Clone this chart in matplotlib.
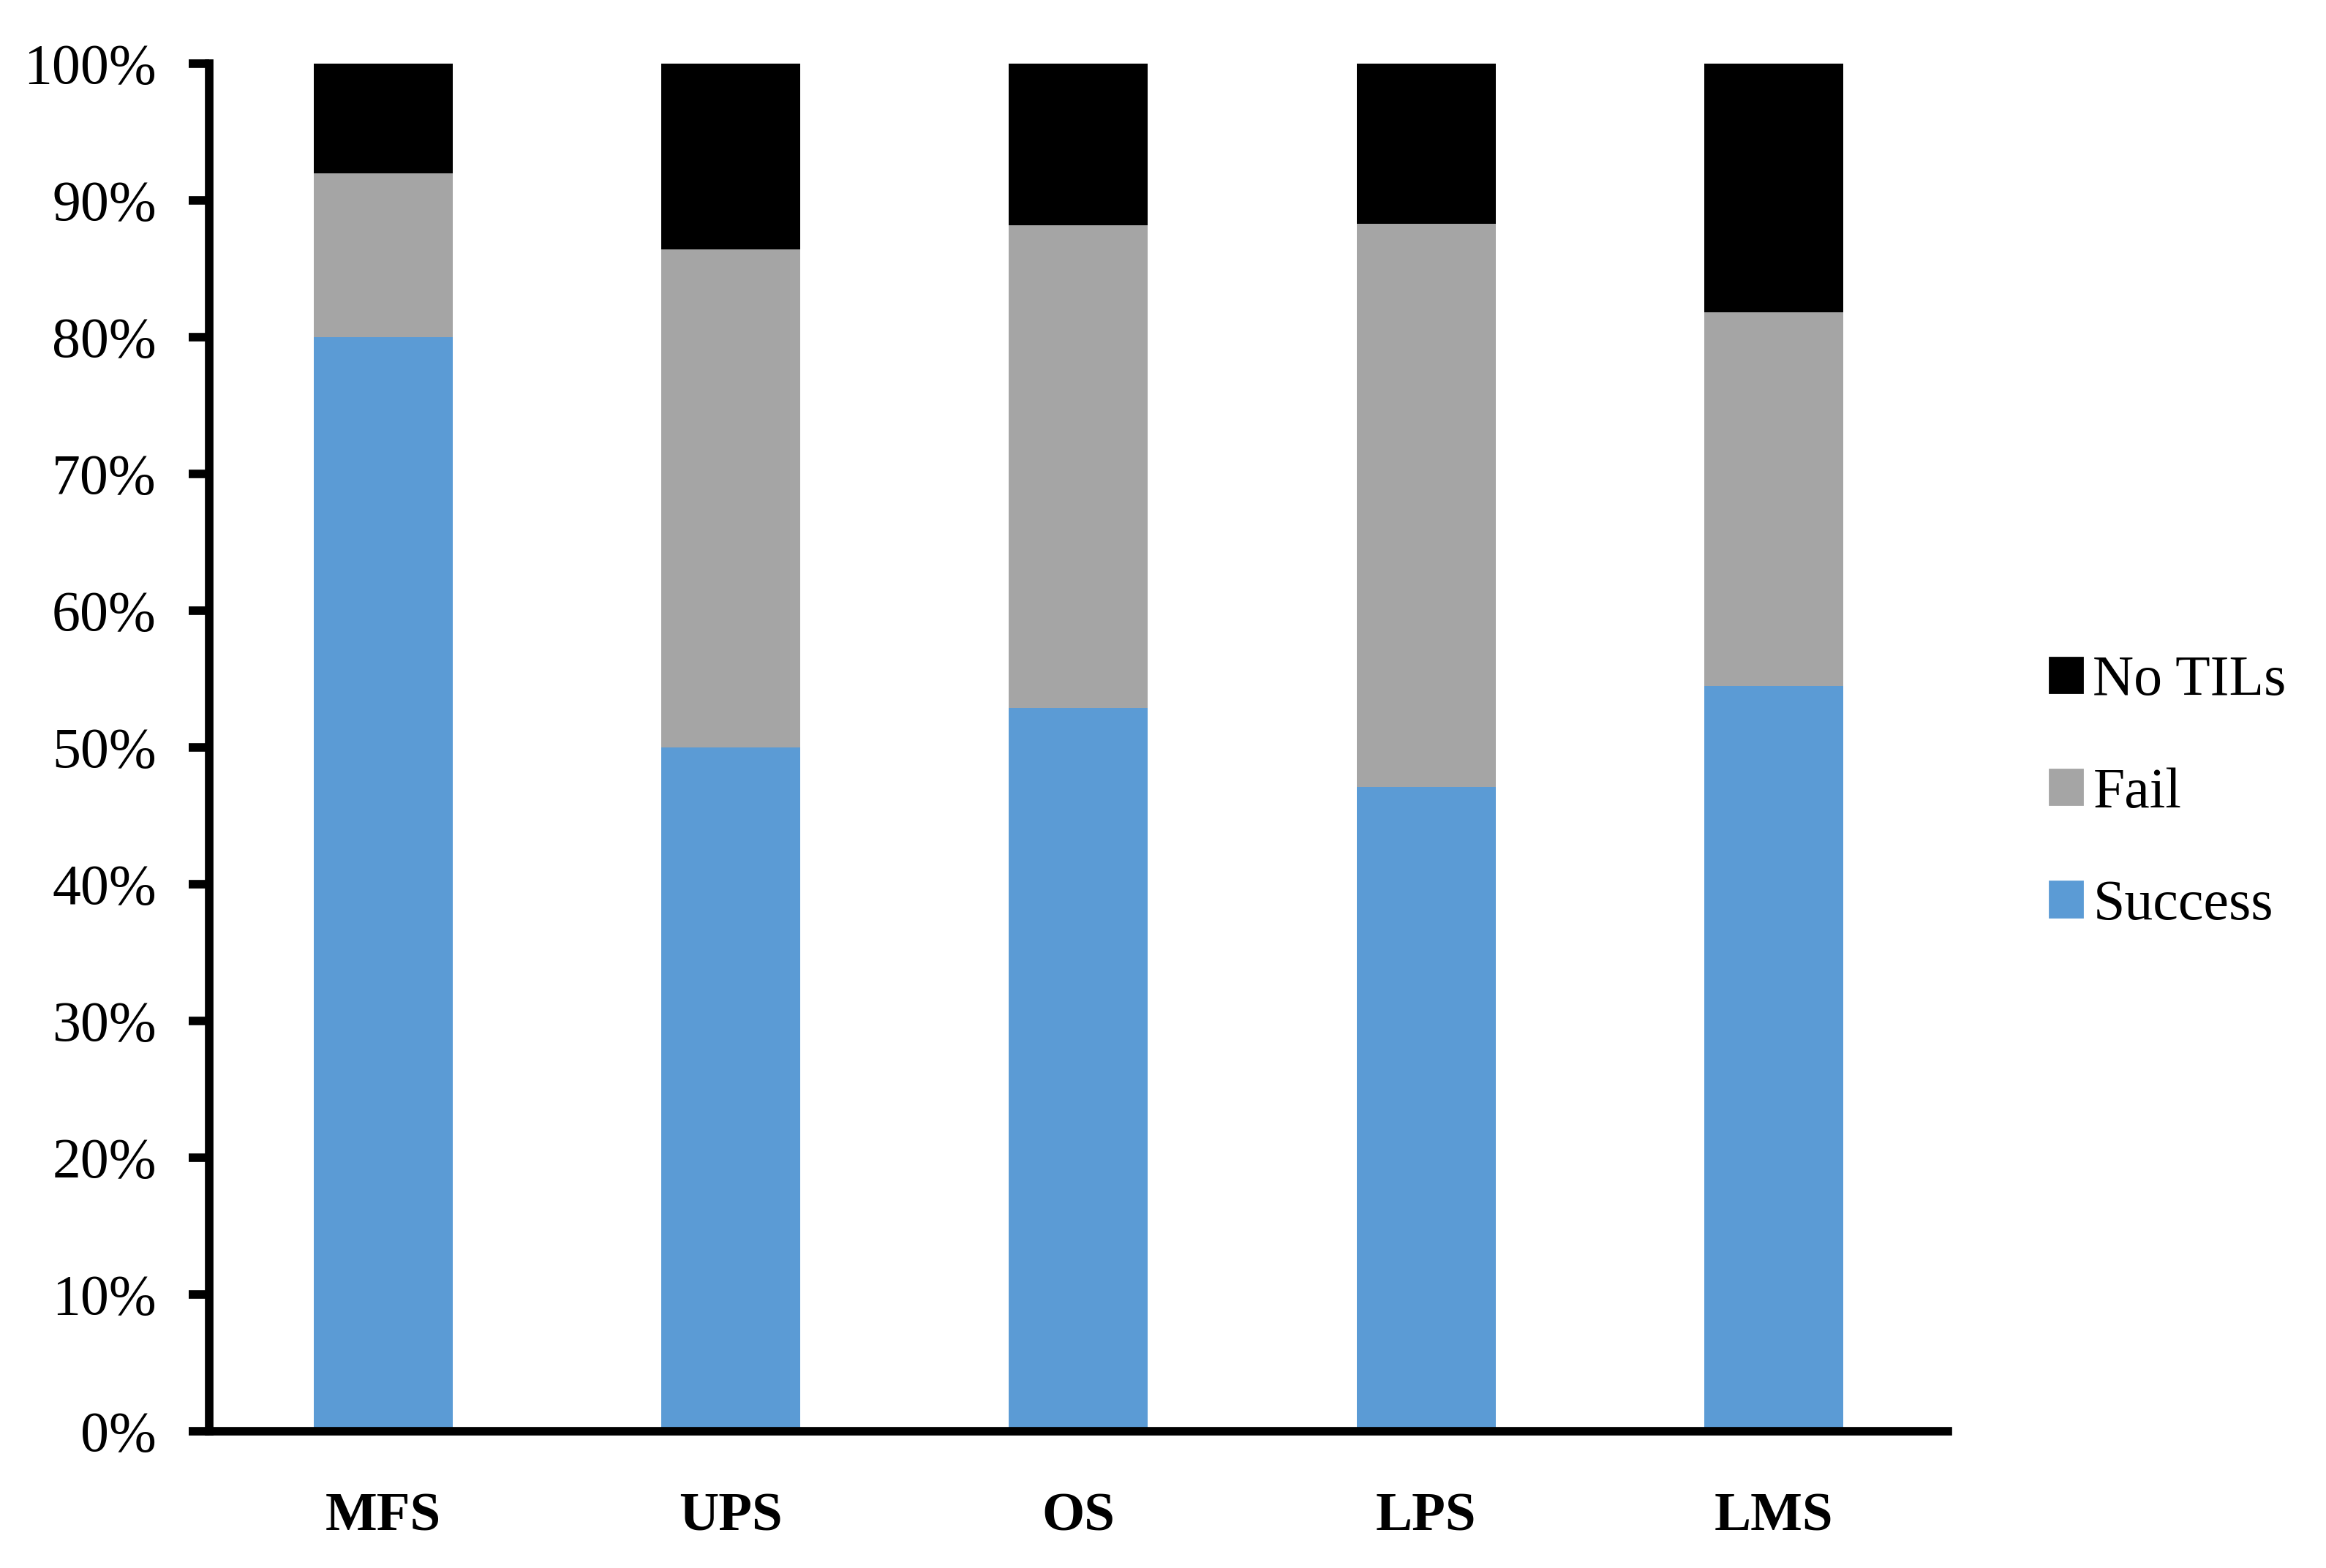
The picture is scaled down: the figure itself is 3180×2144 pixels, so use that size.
import matplotlib
matplotlib.use("Agg")
import matplotlib.pyplot as plt
from matplotlib.patches import Patch
import numpy as np

categories = ["MFS", "UPS", "OS", "LPS", "LMS"]
success = [80.0, 50.0, 52.9, 47.1, 54.5]
fail = [12.0, 36.4, 35.3, 41.2, 27.3]
no_tils = [8.0, 13.6, 11.8, 11.8, 18.2]
ytick_labels = [f"{v}%" for v in range(0, 101, 10)]

c_success = "#5B9BD5"
c_fail = "#A5A5A5"
c_none = "#000000"

plt.rcParams["font.family"] = ["Liberation Serif", "DejaVu Serif"]

fig = plt.figure(figsize=(15.9, 10.72), dpi=200)
ax = fig.add_axes([0.0899, 0.0872, 0.8374 - 0.0899, 0.9594 - 0.0872])

x = np.arange(len(categories))
s = np.array(success)
f = np.array(fail)
n = np.array(no_tils)
w = 0.4
ax.bar(x, s, w, color=c_success, zorder=1)
ax.bar(x, f, w, bottom=s, color=c_fail, zorder=1)
ax.bar(x, n, w, bottom=s + f, color=c_none, zorder=1)

ax.set_xlim(-0.5, len(categories) - 0.5)
ax.set_ylim(0, 100)
ax.set_yticks(range(0, 101, 10))
ax.set_yticklabels(ytick_labels, fontsize=28)
ax.set_xticks(x)
ax.set_xticklabels(categories, fontsize=27, fontweight="bold")

for side in ["top", "right"]:
    ax.spines[side].set_visible(False)
for side in ["left", "bottom"]:
    ax.spines[side].set_linewidth(4.2)
    ax.spines[side].set_zorder(3)
    ax.spines[side].set_capstyle("projecting")

ax.tick_params(axis="y", direction="out", length=10, width=4.2, pad=16)
ax.tick_params(axis="x", length=0, pad=30)

handles = [Patch(color=c_none, label="No TILs"),
           Patch(color=c_fail, label="Fail"),
           Patch(color=c_success, label="Success")]
fig.legend(handles=handles, loc="center left", bbox_to_anchor=(0.869, 0.494),
           frameon=False, fontsize=28, handlelength=0.58, handleheight=0.58,
           handletextpad=0.18, labelspacing=1.05, borderpad=0)

fig.savefig("out.png", dpi=200, facecolor="white")
